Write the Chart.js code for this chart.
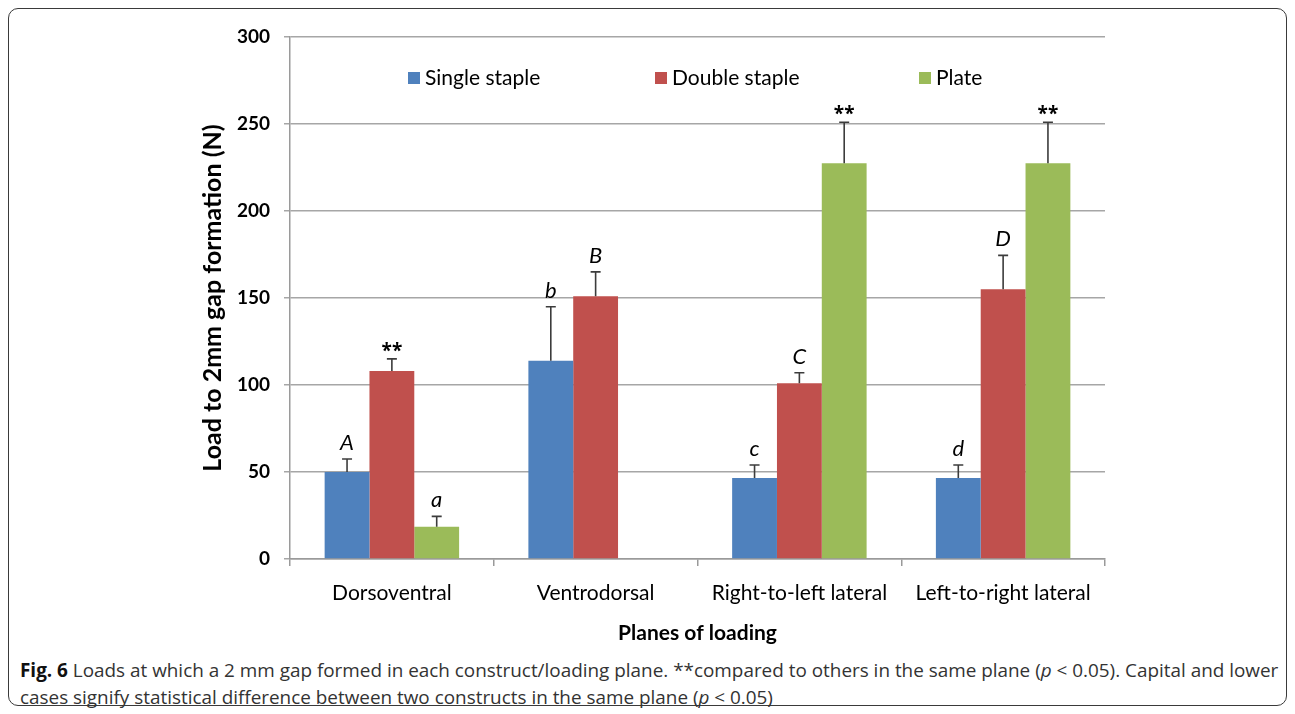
<!DOCTYPE html>
<html>
<head>
<meta charset="utf-8">
<script src="https://cdn.jsdelivr.net/npm/chart.js@4.4.1/dist/chart.umd.min.js"></script>
<style>
  body { margin: 0; background: #fff; width: 1295px; height: 714px; overflow: hidden; }
  #frame {
    position: absolute; left: 8px; top: 8px; width: 1277px; height: 696px;
    border: 1.5px solid #3a3a3a; border-radius: 10px;
  }
  #wrap { position: absolute; left: 0; top: 0; width: 1295px; height: 650px; }
  #caption {
    position: absolute; left: 20px; top: 657px; width: 1270px;
    font-family: "Open Sans", sans-serif;
    font-size: 18.9px; line-height: 27px; color: #333; white-space: nowrap;
  }
  #caption b { color: #111; }
</style>
</head>
<body>
<div id="frame"></div>
<div id="wrap"><canvas id="myChart"></canvas></div>
<div id="caption"><b>Fig. 6</b> Loads at which a 2 mm gap formed in each construct/loading plane. **compared to others in the same plane (<i>p</i> &lt; 0.05). Capital and lower<br>cases signify statistical difference between two constructs in the same plane (<i>p</i> &lt; 0.05)</div>
<script>
// Loads to 2 mm gap formation per loading plane
const planes = ['Dorsoventral', 'Ventrodorsal', 'Right-to-left lateral', 'Left-to-right lateral'];
const yTicks = [0, 50, 100, 150, 200, 250, 300];

const singleStaple = [50, 114, 46.5, 46.5];
const doubleStaple = [108, 151, 101, 155];
const plate = [18.5, null, 227.5, 227.5];

// upper error bars (SD)
const singleErr = [7.5, 31, 7.5, 7.5];
const doubleErr = [7, 14, 6, 19.5];
const plateErr = [6, null, 23.5, 23.5];

// significance marks above bars
const singleMarks = ['A', 'b', 'c', 'd'];
const doubleMarks = ['**', 'B', 'C', 'D'];
const plateMarks = ['a', '', '**', '**'];

const FONT = 'Lato, sans-serif';

const errorBars = {
    id: 'errorBars',
    afterDatasetsDraw(chart) {
        const ctx = chart.ctx;
        const y = chart.scales.y;
        chart.data.datasets.forEach((ds, i) => {
            const meta = chart.getDatasetMeta(i);
            meta.data.forEach((bar, j) => {
                const v = ds.data[j];
                if (v === null) return;
                const top = y.getPixelForValue(v + ds.err[j]);
                ctx.save();
                ctx.strokeStyle = '#3c3c3c';
                ctx.lineWidth = 1.6;
                ctx.beginPath();
                ctx.moveTo(bar.x, bar.y);
                ctx.lineTo(bar.x, top);
                ctx.moveTo(bar.x - 5, top);
                ctx.lineTo(bar.x + 5, top);
                ctx.stroke();
                const m = ds.marks[j];
                if (m) {
                    ctx.fillStyle = '#000';
                    ctx.textAlign = 'center';
                    ctx.textBaseline = 'alphabetic';
                    if (m === '**') {
                        ctx.font = 'bold 19px "Open Sans", sans-serif';
                        ctx.fillText(m, bar.x, top - 2);
                    } else {
                        ctx.font = 'italic 22px ' + FONT;
                        ctx.fillText(m, bar.x, top - 9);
                    }
                }
                ctx.restore();
            });
        });
    }
};

const insideLegend = {
    id: 'insideLegend',
    afterDraw(chart) {
        const ctx = chart.ctx;
        const xs = [408, 655, 919];
        const yc = 78;
        ctx.save();
        ctx.font = '21px ' + FONT;
        ctx.textBaseline = 'middle';
        ctx.textAlign = 'left';
        chart.data.datasets.forEach((ds, i) => {
            ctx.fillStyle = ds.backgroundColor;
            ctx.fillRect(xs[i], yc - 6, 12, 12);
            ctx.fillStyle = '#000';
            ctx.fillText(ds.label, xs[i] + 17, yc);
        });
        ctx.restore();
    }
};

const ctx = document.getElementById('myChart').getContext('2d');
const myChart = new Chart(ctx, {
    type: 'bar',
    data: {
        labels: planes,
        datasets: [{
            label: 'Single staple',
            data: singleStaple,
            err: singleErr,
            marks: singleMarks,
            backgroundColor: '#4F81BD'
        }, {
            label: 'Double staple',
            data: doubleStaple,
            err: doubleErr,
            marks: doubleMarks,
            backgroundColor: '#C0504D'
        }, {
            label: 'Plate',
            data: plate,
            err: plateErr,
            marks: plateMarks,
            backgroundColor: '#9BBB59'
        }]
    },
    options: {
        responsive: true,
        maintainAspectRatio: false,
        animation: false,
        layout: { padding: { left: 190, right: 190, top: 37, bottom: 0 } },
        datasets: { bar: { categoryPercentage: 0.66, barPercentage: 1, skipNull: false } },
        plugins: {
            legend: { display: false },
            tooltip: { enabled: false }
        },
        scales: {
            x: {
                afterFit(scale) { scale.height = 91; },
                grid: { drawOnChartArea: false, drawTicks: true, tickLength: 7, color: '#9a9a9a', lineWidth: 1.5 },
                border: { color: '#9a9a9a', width: 1.5 },
                ticks: { color: '#000', font: { family: FONT, size: 21 }, padding: 15 },
                title: {
                    display: true, text: 'Planes of loading', color: '#000',
                    font: { family: FONT, size: 21, weight: 'bold' }, padding: { top: 6 }
                }
            },
            y: {
                min: 0, max: 300,
                afterFit(scale) { scale.width = 100; },
                afterBuildTicks(scale) { scale.ticks = yTicks.map(v => ({ value: v })); },
                grid: { color: '#a6a6a6', lineWidth: 1.5, tickLength: 6 },
                border: { color: '#9a9a9a', width: 1.5 },
                ticks: { color: '#000', font: { family: FONT, size: 19, weight: 'bold' }, padding: 14 },
                title: {
                    display: true, text: 'Load to 2mm gap formation (N)', color: '#000',
                    font: { family: FONT, size: 25, weight: 'bold' }, padding: { top: 8 }
                }
            }
        }
    },
    plugins: [errorBars, insideLegend]
});
</script>
</body>
</html>
